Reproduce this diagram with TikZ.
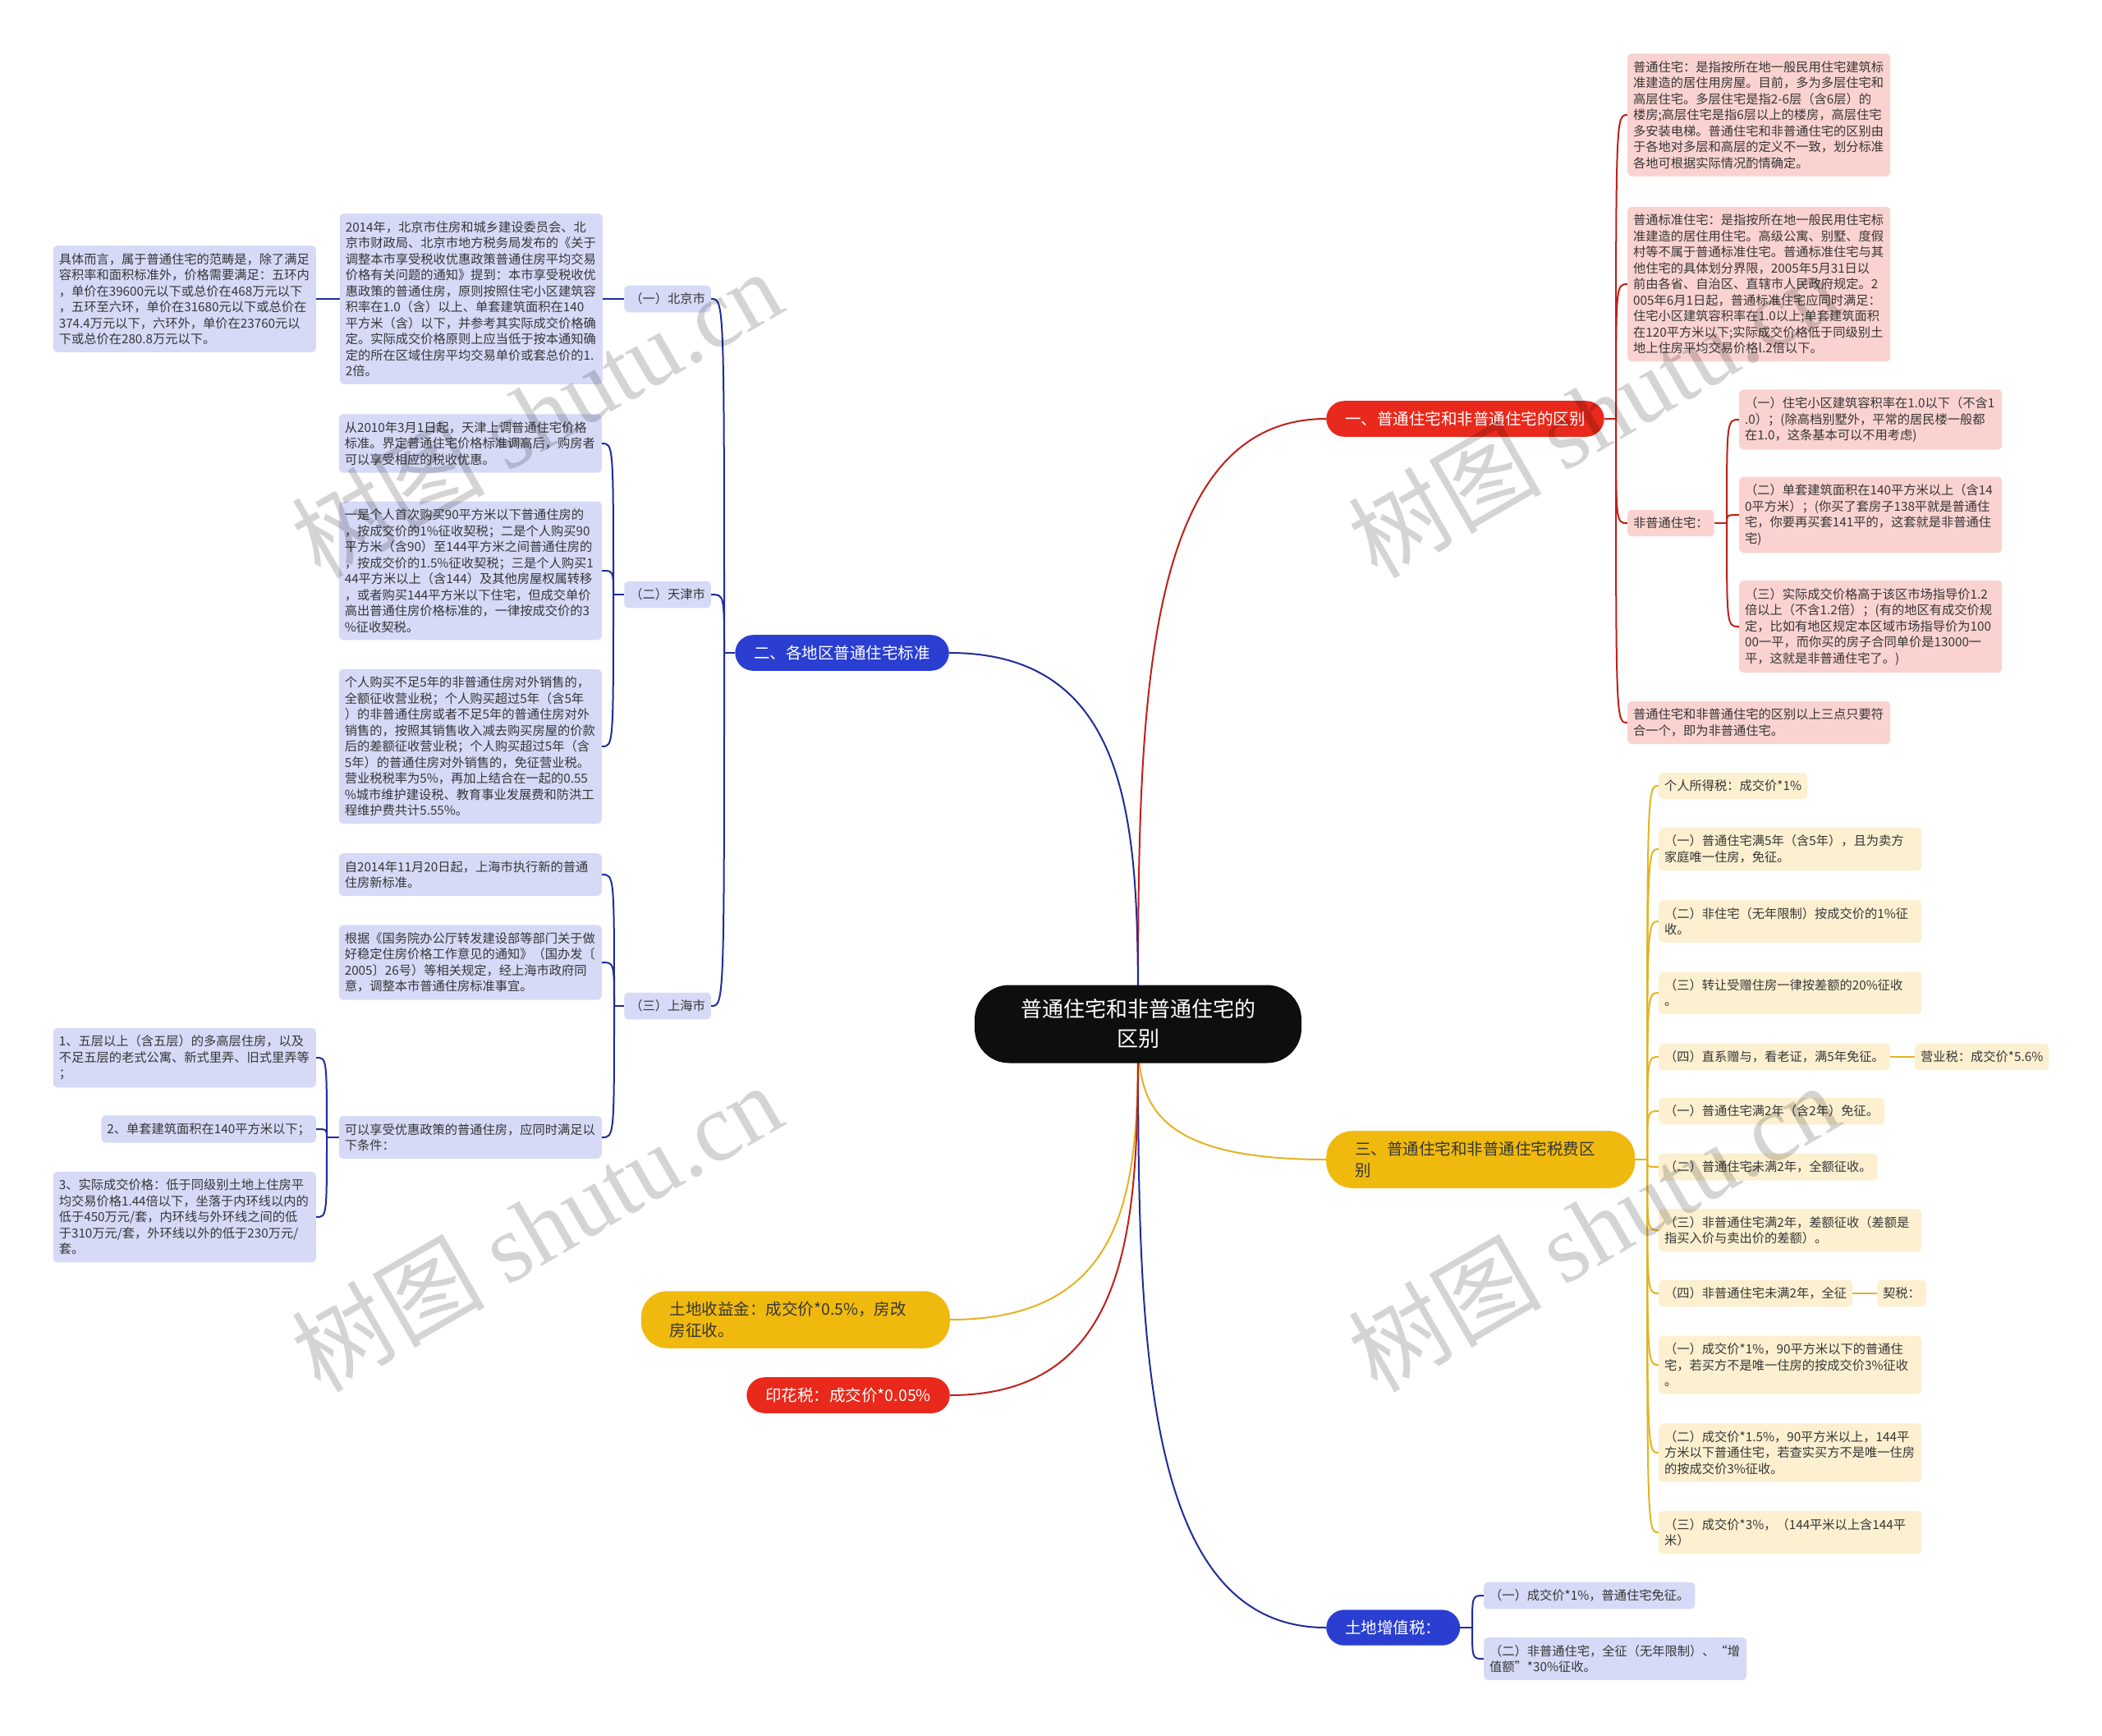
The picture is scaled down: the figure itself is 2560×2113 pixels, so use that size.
\documentclass[tikz,border=0pt]{standalone}
\usepackage{fontspec}
\setmainfont{Noto Sans CJK SC}
\newfontfamily\wmlatin{Liberation Serif}
\usetikzlibrary{backgrounds}
\definecolor{rootblack}{HTML}{0E0E0E}
\definecolor{redfill}{HTML}{E8291B}
\definecolor{redline}{HTML}{BE2118}
\definecolor{bluefill}{HTML}{2A3ED2}
\definecolor{blueline}{HTML}{1F2C98}
\definecolor{yelfill}{HTML}{F0B90D}
\definecolor{yelline}{HTML}{E4B324}
\definecolor{pinkfill}{HTML}{FAD3D0}
\definecolor{lavfill}{HTML}{D6DAF7}
\definecolor{creamfill}{HTML}{FCF0D0}
\definecolor{txtgray}{HTML}{363636}

\begin{document}
\begin{tikzpicture}[x=1pt, y=-1pt,
	every node/.style={font=\fontsize{15.25}{19.5}\selectfont, text=txtgray},
	rootnode/.style={fill=rootblack, text=white, font=\fontsize{26}{36}\selectfont, rounded corners=42pt, minimum width=398pt, minimum height=95pt, align=center},
	mainbr/.style={font=\fontsize{19.5}{26}\selectfont, rounded corners=22pt, inner xsep=23pt, inner ysep=12.7pt, align=left},
	widebr/.style={mainbr, rounded corners=32pt, inner xsep=35pt, text width=306pt},
	txtbox/.style={rounded corners=5pt, inner xsep=7pt, inner ysep=9pt, align=left},
	widebox/.style={txtbox, text width=306pt},
	rlink/.style={draw=redline, line width=2pt},
	blink/.style={draw=blueline, line width=2pt},
	ylink/.style={draw=yelline, line width=2pt},
	wmark/.style={rotate=30, text=black, text opacity=0.17, font=\fontsize{118}{120}\selectfont}]
	\useasboundingbox (0,0) rectangle (2560,2113);

	% centre and main branches
	\node[rootnode] (root) at (1386,1247) {普通住宅和非普通住宅的\\区别};
	\node[mainbr, fill=redfill, text=white, anchor=west] (b1) at (1615,510) {一、普通住宅和非普通住宅的区别};
	\node[mainbr, fill=bluefill, text=white, anchor=east] (b2) at (1156,795) {二、各地区普通住宅标准};
	\node[widebr, fill=yelfill, anchor=west] (b3) at (1615,1412) {三、普通住宅和非普通住宅税费区\\别};
	\node[mainbr, fill=bluefill, text=white, anchor=west] (b4) at (1615,1982) {土地增值税：};
	\node[widebr, fill=yelfill, anchor=east] (b5) at (1157,1607) {土地收益金：成交价*0.5\%，房改\\房征收。};
	\node[mainbr, fill=redfill, text=white, anchor=east] (b6) at (1157,1699) {印花税：成交价*0.05\%};

	% red branch
	\coordinate (rs) at (1968,510);
	\node[widebox, fill=pinkfill, anchor=west] (r1) at (1982,140) {普通住宅：是指按所在地一般民用住宅建筑标\\准建造的居住用房屋。目前，多为多层住宅和\\高层住宅。多层住宅是指2-6层（含6层）的\\楼房;高层住宅是指6层以上的楼房，高层住宅\\多安装电梯。普通住宅和非普通住宅的区别由\\于各地对多层和高层的定义不一致，划分标准\\各地可根据实际情况酌情确定。};
	\node[widebox, fill=pinkfill, anchor=west] (r2) at (1982,346) {普通标准住宅：是指按所在地一般民用住宅标\\准建造的居住用住宅。高级公寓、别墅、度假\\村等不属于普通标准住宅。普通标准住宅与其\\他住宅的具体划分界限，2005年5月31日以\\前由各省、自治区、直辖市人民政府规定。2\\005年6月1日起，普通标准住宅应同时满足：\\住宅小区建筑容积率在1.0以上;单套建筑面积\\在120平方米以下;实际成交价格低于同级别土\\地上住房平均交易价格l.2倍以下。};
	\node[txtbox, fill=pinkfill, anchor=west] (r3) at (1982,637) {非普通住宅：};
	\coordinate (rs3) at (2103,637);
	\node[widebox, fill=pinkfill, anchor=west] (r3a) at (2118,511) {（一）住宅小区建筑容积率在1.0以下（不含1\\.0）；(除高档别墅外，平常的居民楼一般都\\在1.0，这条基本可以不用考虑)};
	\node[widebox, fill=pinkfill, anchor=west] (r3b) at (2118,627) {（二）单套建筑面积在140平方米以上（含14\\0平方米）；(你买了套房子138平就是普通住\\宅，你要再买套141平的，这套就是非普通住\\宅)};
	\node[widebox, fill=pinkfill, anchor=west] (r3c) at (2118,763) {（三）实际成交价格高于该区市场指导价1.2\\倍以上（不含1.2倍）；(有的地区有成交价规\\定，比如有地区规定本区域市场指导价为100\\00一平，而你买的房子合同单价是13000一\\平，这就是非普通住宅了。)};
	\node[widebox, fill=pinkfill, anchor=west] (r4) at (1982,880) {普通住宅和非普通住宅的区别以上三点只要符\\合一个，即为非普通住宅。};

	% yellow branch
	\coordinate (ys) at (2006,1412);
	\node[txtbox, fill=creamfill, anchor=west] (y1) at (2020,957) {个人所得税：成交价*1\%};
	\node[widebox, fill=creamfill, anchor=west] (y2) at (2020,1034) {（一）普通住宅满5年（含5年），且为卖方\\家庭唯一住房，免征。};
	\node[widebox, fill=creamfill, anchor=west] (y3) at (2020,1122) {（二）非住宅（无年限制）按成交价的1\%征\\收。};
	\node[widebox, fill=creamfill, anchor=west] (y4) at (2020,1209) {（三）转让受赠住房一律按差额的20\%征收\\。};
	\node[txtbox, fill=creamfill, anchor=west] (y5) at (2020,1287) {（四）直系赠与，看老证，满5年免征。};
	\node[txtbox, fill=creamfill, anchor=west] (y5a) at (2332,1287) {营业税：成交价*5.6\%};
	\node[txtbox, fill=creamfill, anchor=west] (y6) at (2020,1353) {（一）普通住宅满2年（含2年）免征。};
	\node[txtbox, fill=creamfill, anchor=west] (y7) at (2020,1421) {（二）普通住宅未满2年，全额征收。};
	\node[widebox, fill=creamfill, anchor=west] (y8) at (2020,1498) {（三）非普通住宅满2年，差额征收（差额是\\指买入价与卖出价的差额）。};
	\node[txtbox, fill=creamfill, anchor=west] (y9) at (2020,1575) {（四）非普通住宅未满2年，全征};
	\node[txtbox, fill=creamfill, anchor=west] (y9a) at (2286,1575) {契税：};
	\node[widebox, fill=creamfill, anchor=west] (y10) at (2020,1662) {（一）成交价*1\%，90平方米以下的普通住\\宅，若买方不是唯一住房的按成交价3\%征收\\。};
	\node[widebox, fill=creamfill, anchor=west] (y11) at (2020,1769) {（二）成交价*1.5\%，90平方米以上，144平\\方米以下普通住宅，若查实买方不是唯一住房\\的按成交价3\%征收。};
	\node[widebox, fill=creamfill, anchor=west] (y12) at (2020,1866) {（三）成交价*3\%，（144平米以上含144平\\米）};

	% land value tax
	\coordinate (bs) at (1793,1982);
	\node[txtbox, fill=lavfill, anchor=west] (l1) at (1807,1943) {（一）成交价*1\%，普通住宅免征。};
	\node[widebox, fill=lavfill, anchor=west] (l2) at (1807,2020) {（二）非普通住宅，全征（无年限制）、“增\\值额”*30\%征收。};

	% blue branch, cities
	\coordinate (ls) at (882,795);
	\node[txtbox, fill=lavfill, anchor=east] (bj) at (866,364) {（一）北京市};
	\node[txtbox, fill=lavfill, anchor=east] (tj) at (866,724) {（二）天津市};
	\node[txtbox, fill=lavfill, anchor=east] (sh) at (866,1225) {（三）上海市};

	\node[widebox, fill=lavfill, anchor=east] (bj1) at (734,364) {2014年，北京市住房和城乡建设委员会、北\\京市财政局、北京市地方税务局发布的《关于\\调整本市享受税收优惠政策普通住房平均交易\\价格有关问题的通知》提到：本市享受税收优\\惠政策的普通住房，原则按照住宅小区建筑容\\积率在1.0（含）以上、单套建筑面积在140\\平方米（含）以下，并参考其实际成交价格确\\定。实际成交价格原则上应当低于按本通知确\\定的所在区域住房平均交易单价或套总价的1.\\2倍。};
	\node[widebox, fill=lavfill, anchor=east] (bj2) at (385,364) {具体而言，属于普通住宅的范畴是，除了满足\\容积率和面积标准外，价格需要满足：五环内\\，单价在39600元以下或总价在468万元以下\\，五环至六环，单价在31680元以下或总价在\\374.4万元以下，六环外，单价在23760元以\\下或总价在280.8万元以下。};

	\coordinate (tjs) at (747,724);
	\node[widebox, fill=lavfill, anchor=east] (tj1) at (733,540) {从2010年3月1日起，天津上调普通住宅价格\\标准。界定普通住宅价格标准调高后，购房者\\可以享受相应的税收优惠。};
	\node[widebox, fill=lavfill, anchor=east] (tj2) at (733,695) {一是个人首次购买90平方米以下普通住房的\\，按成交价的1\%征收契税；二是个人购买90\\平方米（含90）至144平方米之间普通住房的\\，按成交价的1.5\%征收契税；三是个人购买1\\44平方米以上（含144）及其他房屋权属转移\\，或者购买144平方米以下住宅，但成交单价\\高出普通住房价格标准的，一律按成交价的3\\\%征收契税。};
	\node[widebox, fill=lavfill, anchor=east] (tj3) at (733,909) {个人购买不足5年的非普通住房对外销售的，\\全额征收营业税；个人购买超过5年（含5年\\）的非普通住房或者不足5年的普通住房对外\\销售的，按照其销售收入减去购买房屋的价款\\后的差额征收营业税；个人购买超过5年（含\\5年）的普通住房对外销售的，免征营业税。\\营业税税率为5\%，再加上结合在一起的0.55\\\%城市维护建设税、教育事业发展费和防洪工\\程维护费共计5.55\%。};

	\coordinate (shs) at (748,1225);
	\node[widebox, fill=lavfill, anchor=east] (sh1) at (733,1065) {自2014年11月20日起，上海市执行新的普通\\住房新标准。};
	\node[widebox, fill=lavfill, anchor=east] (sh2) at (733,1172) {根据《国务院办公厅转发建设部等部门关于做\\好稳定住房价格工作意见的通知》（国办发〔\\2005〕26号）等相关规定，经上海市政府同\\意，调整本市普通住房标准事宜。};
	\node[widebox, fill=lavfill, anchor=east] (sh3) at (733,1385) {可以享受优惠政策的普通住房，应同时满足以\\下条件：};
	\coordinate (sh3s) at (398,1385);
	\node[widebox, fill=lavfill, anchor=east] (sh3a) at (385,1288) {1、五层以上（含五层）的多高层住房，以及\\不足五层的老式公寓、新式里弄、旧式里弄等\\；};
	\node[txtbox, fill=lavfill, anchor=east] (sh3b) at (385,1375) {2、单套建筑面积在140平方米以下；};
	\node[widebox, fill=lavfill, anchor=east] (sh3c) at (385,1482) {3、实际成交价格：低于同级别土地上住房平\\均交易价格1.44倍以下，坐落于内环线以内的\\低于450万元/套，内环线与外环线之间的低\\于310万元/套，外环线以外的低于230万元/\\套。};

	\begin{scope}[on background layer]
		\fill[white] (0,0) rectangle (2560,2113);
		% from the centre
		\draw[rlink] (root.center) .. controls (1386,878) and (1386,510) .. (b1.west);
		\draw[blink] (root.center) .. controls (1386,1021) and (1386,795) .. (b2.east);
		\draw[ylink] (root.center) .. controls (1386,1330) and (1386,1412) .. (b3.west);
		\draw[blink] (root.center) .. controls (1386,1614) and (1386,1982) .. (b4.west);
		\draw[ylink] (root.center) .. controls (1386,1427) and (1386,1607) .. (b5.east);
		\draw[rlink] (root.center) .. controls (1386,1473) and (1386,1699) .. (b6.east);
		% red
		\draw[rlink] (b1.east) -- (rs);
		\foreach \n in {r1,r2,r3,r4}
			\draw[rlink] (rs) .. controls (rs |- \n.west) .. (\n.west);
		\draw[rlink] (r3.east) -- (rs3);
		\foreach \n in {r3a,r3b,r3c}
			\draw[rlink] (rs3) .. controls (rs3 |- \n.west) .. (\n.west);
		% yellow
		\draw[ylink] (b3.east) -- (ys);
		\foreach \n in {y1,y2,y3,y4,y5,y6,y7,y8,y9,y10,y11,y12}
			\draw[ylink] (ys) .. controls (ys |- \n.west) .. (\n.west);
		\draw[ylink] (y5.east) -- (y5a.west);
		\draw[ylink] (y9.east) -- (y9a.west);
		% blue
		\draw[blink] (b4.east) -- (bs);
		\foreach \n in {l1,l2}
			\draw[blink] (bs) .. controls (bs |- \n.west) .. (\n.west);
		\draw[blink] (b2.west) -- (ls);
		\foreach \n in {bj,tj,sh}
			\draw[blink] (ls) .. controls (ls |- \n.east) .. (\n.east);
		\draw[blink] (bj.west) -- (bj1.east);
		\draw[blink] (bj1.west) -- (bj2.east);
		\draw[blink] (tj.west) -- (tjs);
		\foreach \n in {tj1,tj2,tj3}
			\draw[blink] (tjs) .. controls (tjs |- \n.east) .. (\n.east);
		\draw[blink] (sh.west) -- (shs);
		\foreach \n in {sh1,sh2,sh3}
			\draw[blink] (shs) .. controls (shs |- \n.east) .. (\n.east);
		\draw[blink] (sh3.west) -- (sh3s);
		\foreach \n in {sh3a,sh3b,sh3c}
			\draw[blink] (sh3s) .. controls (sh3s |- \n.east) .. (\n.east);
	\end{scope}

	% watermarks
	\node[wmark] (wm1) at (653,503) {树图 {\wmlatin shutu.cn}};
	\node[wmark] (wm2) at (1940,503) {树图 {\wmlatin shutu.cn}};
	\node[wmark] (wm3) at (653,1494) {树图 {\wmlatin shutu.cn}};
	\node[wmark] (wm4) at (1940,1494) {树图 {\wmlatin shutu.cn}};
\end{tikzpicture}
\end{document}
